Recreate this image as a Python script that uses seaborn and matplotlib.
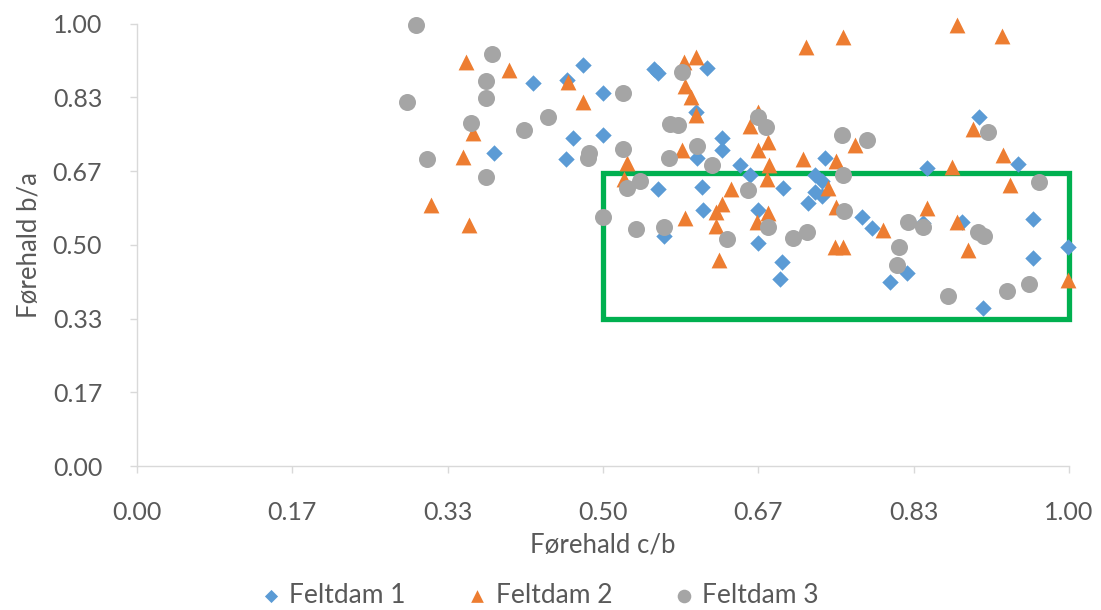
import pandas as pd
import matplotlib
matplotlib.use("Agg")
import matplotlib.pyplot as plt
import matplotlib.patches as patches
import seaborn as sns

# Feltdam 1 (c/b, b/a)
f1_x = [0.383, 0.425, 0.461, 0.479, 0.500, 0.460, 0.468, 0.500, 0.555, 0.559,
        0.612, 0.600, 0.601, 0.628, 0.628, 0.559, 0.606, 0.565, 0.607, 0.647,
        0.658, 0.666, 0.666, 0.693, 0.738, 0.727, 0.735, 0.727, 0.720, 0.735,
        0.778, 0.789, 0.692, 0.690, 0.808, 0.826, 0.843, 0.848, 0.885, 0.903,
        0.945, 0.908, 0.961, 0.961, 0.999]
f1_y = [0.708, 0.867, 0.873, 0.907, 0.844, 0.695, 0.742, 0.749, 0.898, 0.889,
        0.900, 0.801, 0.697, 0.742, 0.715, 0.627, 0.631, 0.520, 0.579, 0.681,
        0.658, 0.579, 0.505, 0.629, 0.697, 0.658, 0.645, 0.620, 0.595, 0.611,
        0.563, 0.538, 0.462, 0.423, 0.416, 0.437, 0.550, 0.674, 0.552, 0.790,
        0.683, 0.357, 0.559, 0.471, 0.495]

# Feltdam 2
f2_x = [0.353, 0.399, 0.462, 0.479, 0.361, 0.350, 0.315, 0.356, 0.526, 0.523,
        0.587, 0.600, 0.588, 0.594, 0.600, 0.585, 0.588, 0.621, 0.628, 0.621,
        0.624, 0.637, 0.666, 0.658, 0.677, 0.666, 0.678, 0.676, 0.677, 0.665,
        0.718, 0.758, 0.880, 0.928, 0.770, 0.897, 0.929, 0.715, 0.750, 0.741,
        0.750, 0.800, 0.848, 0.880, 0.874, 0.937, 0.749, 0.758, 0.892, 0.999]
f2_y = [0.914, 0.896, 0.869, 0.824, 0.753, 0.699, 0.590, 0.545, 0.686, 0.649,
        0.914, 0.925, 0.860, 0.835, 0.794, 0.715, 0.561, 0.575, 0.593, 0.543,
        0.466, 0.627, 0.801, 0.769, 0.733, 0.715, 0.681, 0.649, 0.572, 0.552,
        0.948, 0.971, 0.998, 0.973, 0.726, 0.762, 0.704, 0.695, 0.690, 0.629,
        0.586, 0.534, 0.584, 0.552, 0.676, 0.636, 0.495, 0.495, 0.489, 0.421]

# Feltdam 3
f3_x = [0.299, 0.381, 0.374, 0.374, 0.290, 0.358, 0.415, 0.441, 0.521, 0.585,
        0.572, 0.580, 0.485, 0.484, 0.521, 0.571, 0.601, 0.617, 0.311, 0.374,
        0.540, 0.526, 0.500, 0.535, 0.565, 0.633, 0.666, 0.675, 0.756, 0.783,
        0.913, 0.758, 0.656, 0.677, 0.759, 0.827, 0.843, 0.902, 0.909, 0.704,
        0.719, 0.818, 0.815, 0.870, 0.933, 0.957, 0.968]
f3_y = [0.998, 0.932, 0.871, 0.833, 0.824, 0.776, 0.760, 0.790, 0.844, 0.891,
        0.774, 0.771, 0.708, 0.697, 0.717, 0.697, 0.724, 0.681, 0.695, 0.654,
        0.645, 0.629, 0.563, 0.536, 0.541, 0.514, 0.790, 0.767, 0.749, 0.738,
        0.756, 0.658, 0.624, 0.541, 0.577, 0.552, 0.541, 0.529, 0.520, 0.516,
        0.529, 0.495, 0.455, 0.385, 0.396, 0.412, 0.643]

series = ["Feltdam 1", "Feltdam 2", "Feltdam 3"]
tick_vals = [0, 1/6, 2/6, 3/6, 4/6, 5/6, 1]
box_x = (0.5, 1.0)
box_y = (0.333, 0.663)

df = pd.concat([
    pd.DataFrame({"x": f1_x, "y": f1_y, "serie": series[0]}),
    pd.DataFrame({"x": f2_x, "y": f2_y, "serie": series[1]}),
    pd.DataFrame({"x": f3_x, "y": f3_y, "serie": series[2]}),
])

sns.set_style("white")
plt.rcParams["font.family"] = ["Lato", "DejaVu Sans"]

fig = plt.figure(figsize=(11.01, 6.10), dpi=100)
ax = fig.add_axes([0.1244, 0.236, 0.8465, 0.725])

colors = {"Feltdam 1": "#5B9BD5", "Feltdam 2": "#ED7D31", "Feltdam 3": "#A5A5A5"}
markers = {"Feltdam 1": "D", "Feltdam 2": "^", "Feltdam 3": "o"}
sizes = {"Feltdam 1": 70, "Feltdam 2": 130, "Feltdam 3": 150}

for name in series:
    sub = df[df["serie"] == name]
    sns.scatterplot(data=sub, x="x", y="y", ax=ax, color=colors[name],
                    marker=markers[name], s=sizes[name], linewidth=0,
                    label=name, clip_on=False, zorder=3)

# green box marking the region of interest
rect = patches.Rectangle((box_x[0], box_y[0]), box_x[1] - box_x[0], box_y[1] - box_y[0],
                         fill=False, edgecolor="#00B050", linewidth=3.8, zorder=2,
                         clip_on=False)
ax.add_patch(rect)

ax.set_xlim(0, 1)
ax.set_ylim(0, 1)
ax.set_xticks(tick_vals)
ax.set_yticks(tick_vals)
ax.set_xticklabels([f"{v:.2f}" for v in tick_vals])
ax.set_yticklabels([f"{v:.2f}" for v in tick_vals])
ax.tick_params(axis="both", labelsize=18, labelcolor="#595959", color="#D9D9D9",
               length=5, width=1, direction="out")
ax.tick_params(axis="y", pad=20)
ax.tick_params(axis="x", pad=20)
ax.tick_params(left=True, bottom=True)
for side in ["top", "right"]:
    ax.spines[side].set_visible(False)
for side in ["left", "bottom"]:
    ax.spines[side].set_color("#D9D9D9")
    ax.spines[side].set_linewidth(1)

ax.set_xlabel("Førehald c/b", fontsize=18.5, color="#595959", labelpad=6)
ax.set_ylabel("Førehald b/a", fontsize=18.5, color="#595959", labelpad=8)

ax.legend_.remove()
handles, labels = ax.get_legend_handles_labels()
fig.legend(handles, labels, loc="lower center", bbox_to_anchor=(0.49, -0.035), ncol=3,
           frameon=False, fontsize=19, labelcolor="#595959", handlelength=0.8,
           handletextpad=0.3, columnspacing=2.3, markerscale=0.8)

fig.savefig("out.png", dpi=100)
